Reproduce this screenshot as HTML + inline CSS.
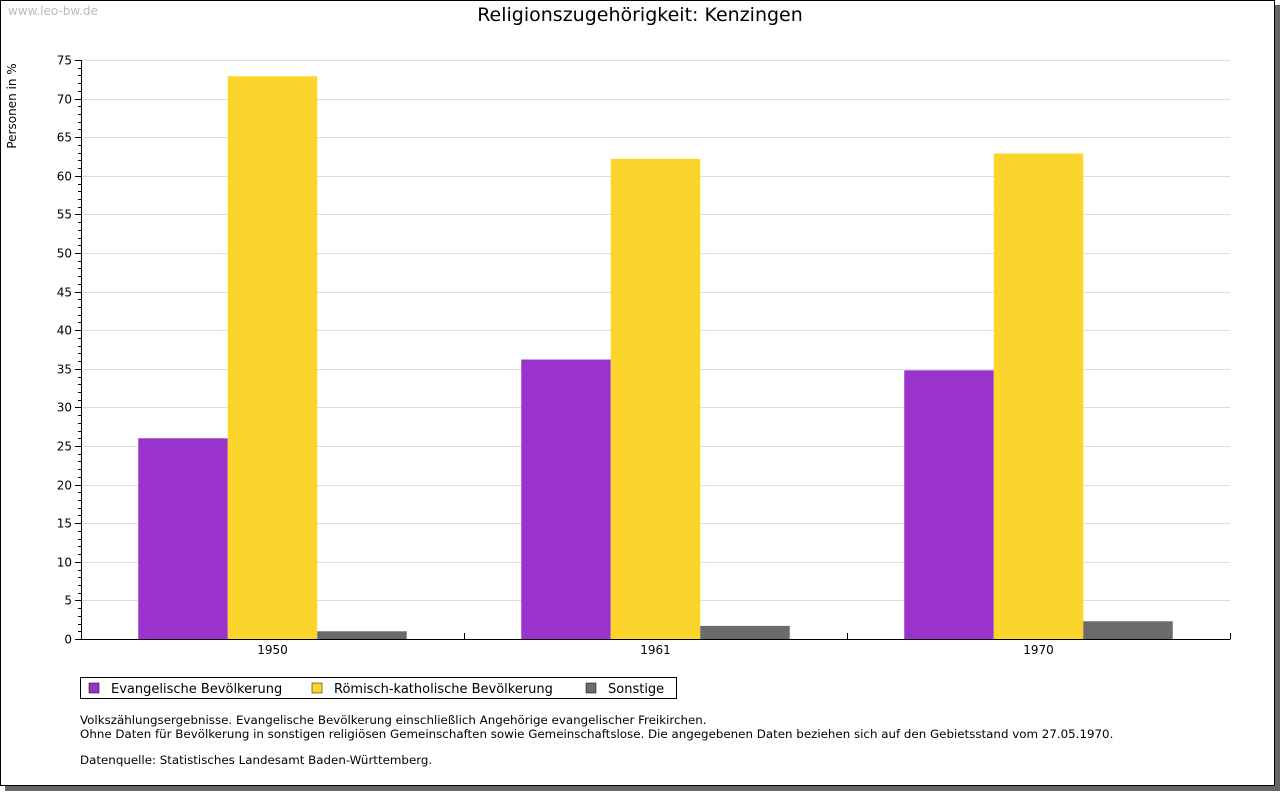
<!DOCTYPE html>
<html><head><meta charset="utf-8"><style>
body{margin:0;background:#fff;width:1280px;height:791px;overflow:hidden;font-family:"DejaVu Sans","Liberation Sans",sans-serif;}
</style></head><body>
<svg width="1280" height="791" xmlns="http://www.w3.org/2000/svg" font-family="DejaVu Sans, Liberation Sans, sans-serif">
<rect x="5" y="5" width="1275" height="786" fill="#666"/>
<rect x="0.5" y="0.5" width="1274" height="785" fill="#fff" stroke="#000"/>
<text x="8" y="15" font-size="12" fill="#bbb">www.leo-bw.de</text>
<text x="640" y="21" font-size="19" text-anchor="middle">Religionszugehörigkeit: Kenzingen</text>
<text transform="translate(16,106) rotate(-90)" font-size="12" text-anchor="middle">Personen in %</text>
<g id="grid"></g><g id="bars"></g><g id="axes"></g>
<g>
<rect x="80.5" y="677.5" width="596" height="21" fill="#fff" stroke="#000"/>
<rect x="89" y="683" width="10" height="10" fill="#9933cc" stroke="#000" stroke-width="0.5"/>
<text x="111" y="693" font-size="13">Evangelische Bevölkerung</text>
<rect x="312" y="683" width="10" height="10" fill="#fcd52c" stroke="#000" stroke-width="0.5"/>
<text x="334" y="693" font-size="13">Römisch-katholische Bevölkerung</text>
<rect x="586" y="683" width="10" height="10" fill="#6b6b6b" stroke="#000" stroke-width="0.5"/>
<text x="608" y="693" font-size="13">Sonstige</text>
</g>
<g font-size="11.85">
<text x="80" y="724">Volkszählungsergebnisse. Evangelische Bevölkerung einschließlich Angehörige evangelischer Freikirchen.</text>
<text x="80" y="738">Ohne Daten für Bevölkerung in sonstigen religiösen Gemeinschaften sowie Gemeinschaftslose. Die angegebenen Daten beziehen sich auf den Gebietsstand vom 27.05.1970.</text>
<text x="80" y="764">Datenquelle: Statistisches Landesamt Baden-Württemberg.</text>
</g>
</svg>
<script>
const categories=["1950","1961","1970"];
const evangelisch=[26.0,36.2,34.8];
const katholisch=[72.9,62.2,62.9];
const sonstige=[1.0,1.7,2.3];
const yTicks=[0,5,10,15,20,25,30,35,40,45,50,55,60,65,70,75];
const NS="http://www.w3.org/2000/svg";
const x0=81,x1=1230,y0=639,y1=60,yMax=75;
const yS=v=>y0-(v/yMax)*(y0-y1);
const gw=(x1-x0)/categories.length;
function mk(t,a,p){const e=document.createElementNS(NS,t);for(const k in a)e.setAttribute(k,a[k]);p.appendChild(e);return e;}
const grid=document.getElementById('grid'),bars=document.getElementById('bars'),axes=document.getElementById('axes');
yTicks.forEach(v=>{
 const y=Math.round(yS(v))+0.5;
 if(v>0){const l=mk('line',{x1:x0,x2:x1,y1:y,y2:y,stroke:'#ddd'},grid);
 
 }
 const t=mk('line',{x1:x0-6,x2:x0,y1:y,y2:y,stroke:'#000'},axes);
 const lb=mk('text',{x:x0-9,y:y+4,'font-size':12,'text-anchor':'end'},axes);lb.textContent=v;
 
 
 if(v<yMax)for(let i=1;i<5;i++){const yy=Math.round(yS(v+i))+0.5;mk('line',{x1:x0-3,x2:x0,y1:yy,y2:yy,stroke:'#000'},axes);}
});
const series=[[evangelisch,'#9933cc','evangelisch'],[katholisch,'#fcd52c','katholisch'],[sonstige,'#6b6b6b','sonstige']];
const bw=89.5,pad=(gw-3*bw)/2;
categories.forEach((c,i)=>{
 series.forEach((s,j)=>{
  const x=x0+i*gw+pad+j*bw,y=yS(s[0][i]);
  const r=mk('rect',{x:x,y:y,width:bw,height:y0-y,fill:s[1]},bars);
  
  
 });
 const lb=mk('text',{x:x0+i*gw+gw/2,y:y0+15,'font-size':12,'text-anchor':'middle'},axes);lb.textContent=c;
 
 
 const tx=Math.round(x0+(i+1)*gw)+0.5;
 mk('line',{x1:tx,x2:tx,y1:y0-6,y2:y0,stroke:'#000'},axes);
});
const ya=mk('line',{x1:x0+0.5,x2:x0+0.5,y1:y1,y2:y0,stroke:'#000'},axes);


const xa=mk('line',{x1:x0,x2:x1+0.5,y1:y0+0.5,y2:y0+0.5,stroke:'#000'},axes);


</script>
</body></html>
